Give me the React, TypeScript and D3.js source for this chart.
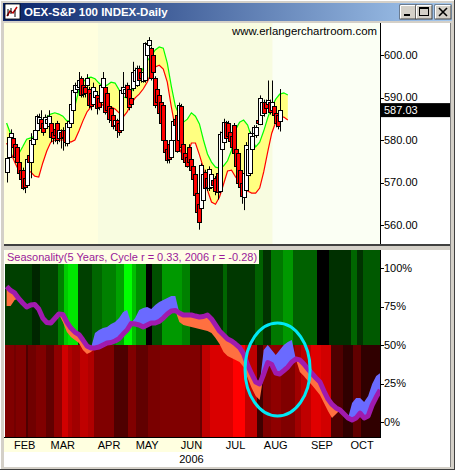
import React from "react";
import * as d3 from "d3";

// ---------- DATA ----------
// trading-day index: 0 = 3 Jan 2006
const FIRST_BAR_DAY = 11;
const opens = [572.5,576.0,580.7,580.5,579.0,578.4,574.8,573.0,573.0,571.0,569.5,576.5,574.8,579.0,580.2,582.4,584.0,585.0,584.0,582.8,584.0,583.3,584.0,582.0,582.5,584.0,580.5,582.0,582.4,582.4,579.3,583.0,584.0,587.0,591.3,592.0,592.5,594.6,593.0,592.5,593.0,592.0,591.0,588.5,590.0,590.6,590.0,589.0,592.5,592.5,591.0,588.0,587.5,586.0,583.5,584.7,584.0,582.4,591.2,591.0,592.9,592.0,590.0,592.2,594.0,592.9,597.0,596.0,594.0,594.0,600.0,602.4,601.6,600.0,594.6,592.0,590.6,589.0,588.2,580.0,578.0,579.0,576.0,580.0,585.0,586.0,580.0,588.0,579.0,577.0,576.0,578.4,575.5,574.0,572.0,567.5,565.0,564.0,566.0,572.5,571.0,568.7,569.0,570.5,571.0,572.2,568.0,578.0,579.5,584.2,584.0,582.0,581.0,583.5,578.0,577.0,573.0,570.0,566.6,568.2,572.0,572.2,578.0,581.6,581.0,584.7,584.0,586.0,589.0,589.0,588.5,589.0,587.0,588.0,586.4,586.0,584.5];
const highs = [576.5,581.5,582.5,581.5,579.5,579.0,575.5,574.0,573.5,571.5,576.0,577.0,581.6,581.0,583.0,586.0,586.2,587.0,584.5,586.0,585.8,587.0,584.5,582.5,583.0,584.5,583.0,582.5,583.0,583.0,584.5,585.0,589.0,592.0,593.5,593.8,596.0,595.0,593.5,593.0,595.5,592.5,591.5,593.5,592.0,591.0,590.5,594.0,596.0,593.0,591.5,588.5,588.0,586.5,585.5,585.0,584.5,592.5,596.0,593.0,593.5,592.5,590.5,598.4,597.0,597.5,597.5,596.5,596.5,603.0,603.2,604.2,602.0,600.5,595.0,592.5,591.0,590.0,588.5,581.0,579.0,579.5,580.5,585.0,585.5,586.5,588.8,588.5,579.5,577.5,576.5,579.0,576.0,574.5,572.5,568.0,565.5,574.5,572.5,573.0,571.5,573.8,572.5,571.0,571.5,572.5,582.0,582.5,585.0,584.5,584.5,582.5,581.5,584.0,578.5,577.5,573.5,570.5,572.5,579.5,578.5,582.0,581.5,583.5,583.5,585.0,590.5,589.5,589.5,589.5,594.0,589.5,594.0,588.5,587.0,586.5,592.0];
const lows = [570.0,574.5,579.5,577.5,575.0,574.0,571.0,570.0,568.2,567.5,569.0,572.0,571.0,577.5,579.5,581.5,583.0,582.0,581.0,582.0,583.0,583.0,579.5,579.0,579.5,579.0,579.5,578.0,577.5,578.5,578.5,582.0,583.5,586.5,590.5,591.0,592.0,590.0,590.0,590.0,592.5,587.5,587.0,588.0,589.0,586.0,587.0,588.5,592.0,586.0,586.5,584.0,584.0,582.5,582.5,580.5,581.0,582.0,590.5,590.0,589.5,587.0,587.5,591.5,593.5,592.5,593.5,593.5,593.5,593.5,599.5,601.5,594.0,595.5,587.5,588.5,585.5,583.5,579.0,576.5,574.5,574.5,575.5,579.5,583.0,577.0,579.5,577.5,575.0,574.0,573.5,574.0,572.0,570.5,566.5,562.5,558.9,563.5,565.5,568.0,568.0,568.0,568.5,568.5,567.0,566.0,567.5,577.5,579.0,580.0,580.0,579.0,578.0,576.5,573.0,569.5,568.0,565.0,563.5,567.5,571.5,571.5,577.5,581.0,580.5,583.5,583.5,585.5,585.5,586.5,587.5,586.0,586.5,585.0,583.0,582.5,582.0];
const closes = [575.8,580.7,581.6,578.4,576.0,574.8,572.2,571.0,568.7,568.8,575.5,574.8,580.0,580.5,582.4,585.6,585.5,582.8,582.0,585.4,585.0,585.6,580.7,580.5,581.0,580.0,582.4,580.5,580.8,579.5,584.0,584.5,588.5,591.8,593.0,593.0,594.1,590.6,591.0,591.0,594.6,588.2,588.0,592.5,591.5,587.5,588.0,593.0,594.6,586.6,587.0,585.0,584.7,583.5,584.7,582.4,582.0,591.8,592.5,592.0,590.0,587.8,588.5,596.0,596.5,597.0,594.1,594.5,596.0,602.8,602.5,603.5,594.6,596.0,588.2,589.0,586.4,584.0,580.0,577.2,575.3,575.5,580.0,584.5,583.5,577.5,588.2,578.4,575.5,575.0,574.0,574.8,573.0,571.0,567.0,563.0,560.7,574.1,572.0,568.7,569.0,573.2,572.0,569.4,568.0,567.8,581.5,582.0,584.2,580.5,581.0,580.0,578.5,577.0,574.0,570.0,569.0,567.0,572.2,578.8,578.0,581.6,581.0,583.0,583.0,584.0,590.0,589.0,586.4,587.5,589.4,586.6,589.0,585.9,584.0,583.5,587.03];
const LAST_PRICE = 587.03;

// displaced envelope, every 2nd trading day from day 11
const BAND_START_DAY = 11;
const bandUpper = [584.0,581.4,578.6,576.7,578.4,580.2,580.5,580.9,582.6,584.0,585.4,586.1,586.4,586.1,585.6,584.5,584.5,588.0,591.8,593.6,594.6,594.8,594.4,593.4,592.5,592.9,593.6,593.4,591.8,590.1,589.9,591.3,593.2,595.1,596.9,598.6,599.8,601.2,601.9,601.6,598.1,592.7,588.0,585.9,584.2,584.9,586.4,585.6,583.8,580.0,576.7,574.8,573.6,573.4,573.9,575.1,577.6,582.4,584.2,584.7,583.5,580.5,578.4,579.5,582.1,585.2,587.8,589.6,590.8,591.1,590.6];
const bandLower = [579.3,577.2,574.8,572.9,572.5,572.5,572.5,571.5,571.3,574.6,577.4,579.5,580.0,580.0,580.0,579.8,579.5,580.0,582.1,584.5,586.6,587.8,588.5,588.7,588.2,587.8,587.8,587.3,586.4,585.4,586.6,588.5,589.9,590.8,592.0,593.6,595.8,597.2,597.6,596.7,593.6,587.8,582.8,578.1,575.8,576.5,579.3,579.3,576.5,573.4,568.2,565.4,564.9,566.6,569.6,572.7,572.9,571.3,570.1,568.9,568.0,567.5,567.5,568.7,572.5,577.2,581.6,584.2,585.4,585.4,584.7];

// seasonality (percent), every 2nd trading day from day 11
const SEASON_START_DAY = 11;
const cycle5y = [88.0,85.4,83.8,80.2,77.3,74.7,76.0,76.3,73.4,67.5,64.6,64.3,67.2,70.1,69.8,64.9,61.0,58.4,56.8,53.2,49.4,48.1,48.1,48.7,50.0,51.3,51.6,52.6,54.2,57.1,59.7,64.0,63.6,63.0,61.7,63.0,64.3,64.3,65.3,67.5,70.1,72.1,72.4,70.8,69.5,69.5,69.5,68.8,68.2,68.5,69.5,66.9,63.0,59.1,56.5,53.9,52.6,50.6,48.4,44.2,37.0,31.2,26.0,24.7,31.2,38.6,37.3,31.8,31.2,33.4,35.7,39.0,40.9,40.3,37.7,34.4,31.5,28.6,26.0,20.1,14.9,11.4,9.1,7.8,5.2,2.6,1.3,2.6,5.8,2.6,3.9,11.0,16.2,20.8];
const year2006 = [75.3,75.3,79.2,80.2,77.3,74.7,76.0,76.3,73.4,67.5,64.6,64.3,67.2,70.1,64.9,58.4,55.2,53.2,51.3,46.8,44.2,45.5,57.8,59.7,61.0,61.7,63.6,64.9,67.5,71.4,72.7,64.3,67.5,72.7,74.0,74.7,73.4,76.0,77.9,79.2,80.5,81.8,81.8,64.9,63.0,62.3,61.7,61.0,60.4,59.7,59.1,57.8,54.5,50.6,45.5,42.9,41.6,40.3,39.0,35.7,28.6,22.1,16.9,14.3,46.8,50.0,46.8,43.5,46.8,50.0,51.9,53.2,40.9,32.5,29.9,26.6,24.0,20.8,17.5,12.3,7.1,2.6,5.2,7.8,5.2,2.6,12.3,15.6,15.6,13.0,16.9,24.7,29.9,31.8];

// heat-map strength per period (start day, level 0..1)
const greenSegStart = [10.2,12.5,23.5,27.5,36.5,39.5,41.5,46.5,53.5,58.5,65.5,69.5,73.5,75.5,80.5,83.5,88.5,98.5,102.5,118.5,120.5,134.5,138.5,142.5,148.5,153.5,165.5,171.5,182.5,185.5,188.5];
const greenLevel = [0.22,0.25,0.15,0.27,0.5,0.8,0.9,0.25,0.4,0.5,0.63,1.0,0.75,0.56,0.0,0.31,0.6,0.5,0.2,0.4,0.22,0.38,0.2,0.47,0.6,0.38,0.0,0.19,0.4,0.2,0.35];
const redSegStart = [10.2,14.5,15.5,20.5,21.5,25.5,30.5,34.5,38.5,41.5,43.5,47.5,51.5,54.5,64.5,71.5,75.5,81.5,87.5,107.5,108.5,112.5,123.5,129.5,135.5,138.5,142.5,147.5,154.5,157.5,162.5,167.5,172.5,178.5,183.5,187.5];
const redLevel = [0.5,0.45,0.5,0.31,0.44,0.5,0.38,0.56,0.82,0.69,0.63,0.75,0.69,0.5,0.31,0.5,0.38,0.48,0.5,0.4,0.75,0.85,1.0,0.75,0.25,0.5,0.56,0.5,0.63,0.75,0.88,0.82,0.31,0.19,0.38,0.19];

const monthLabels = ["FEB","MAR","APR","MAY","JUN","JUL","AUG","SEP","OCT"];
const monthStartDays = [20,39,62,81,103,125,145,168,188];
const yearLabel = "2006";
const priceTicks = [560,570,580,590,600];
const pctTicks = [0,25,50,75,100];
const DAY_DOMAIN = [10.2, 196.9];
const shadeBreakDays = [56.5, 143.5];
// annotation ellipse (day, pct, half-width days, half-height pct)
const highlight = { d: 145.9, pct: 34.1, rd: 16.2, rp: 30.2 };

const FONT = "'Liberation Sans', Arial, sans-serif";

export default function App() {
  const L = 4, R = 380, RIGHT = 450;
  const TT = 23, TB = 244, BT = 250, BB = 437;
  const x = d3.scaleLinear().domain(DAY_DOMAIN).range([5, R]);
  const yP = d3.scaleLinear().domain([560, 600]).range([225, 55]);
  const yS = d3.scaleLinear().domain([0, 100]).range([422, 268]);
  const green = d3.scaleLinear<string>().domain([0, 1]).range(["#000000", "#00ff00"]);
  const red = d3.scaleLinear<string>().domain([0, 1]).range(["#000000", "#ff0000"]);

  const band = bandUpper.map((u, k) => ({ d: BAND_START_DAY + 2 * k, u, l: bandLower[k] }));
  const bandArea = d3.area<any>().x((p) => x(p.d)).y0((p) => yP(p.l)).y1((p) => yP(p.u));
  const upLine = d3.line<any>().x((p) => x(p.d)).y((p) => yP(p.u));
  const loLine = d3.line<any>().x((p) => x(p.d)).y((p) => yP(p.l));

  const season = cycle5y.map((c, k) => ({ d: SEASON_START_DAY + 2 * k, c, v: year2006[k] }));
  const blueArea = d3.area<any>().x((p) => x(p.d)).y0((p) => yS(p.c)).y1((p) => yS(Math.max(p.c, p.v)));
  const orangeArea = d3.area<any>().x((p) => x(p.d)).y0((p) => yS(p.c)).y1((p) => yS(Math.min(p.c, p.v)));
  const cycLine = d3.line<any>().x((p) => x(p.d)).y((p) => yS(p.c));

  const segs = (starts: number[], levels: number[]) =>
    starts.map((s, k) => ({ x0: x(s), x1: x(k + 1 < starts.length ? starts[k + 1] : DAY_DOMAIN[1]), lv: levels[k] }));
  const gSegs = segs(greenSegStart, greenLevel);
  const rSegs = segs(redSegStart, redLevel);

  const s1 = x(shadeBreakDays[0]);
  const s2 = x(shadeBreakDays[1]);

  return (
    <svg width={455} height={470} style={{ position: "absolute", left: 0, top: 0 }} fontFamily={FONT}>
      <defs>
        <linearGradient id="tb" x1="0" x2="1" y1="0" y2="0">
          <stop offset="0" stopColor="#0a246a" />
          <stop offset="1" stopColor="#a6caf0" />
        </linearGradient>
        <clipPath id="topClip"><rect x={L} y={TT} width={R - L} height={TB - TT} /></clipPath>
        <clipPath id="botClip"><rect x={L} y={BT} width={R - L} height={BB - BT} /></clipPath>
      </defs>
      {/* window chrome */}
      <rect x={0} y={0} width={455} height={470} fill="#d4d0c8" />
      <line x1={0.5} y1={0} x2={0.5} y2={470} stroke="#ffffff" />
      <line x1={0} y1={0.5} x2={455} y2={0.5} stroke="#ffffff" />
      <line x1={454.5} y1={0} x2={454.5} y2={470} stroke="#404040" />
      <line x1={0} y1={469.5} x2={455} y2={469.5} stroke="#404040" />
      <rect x={3} y={3} width={449} height={18} fill="url(#tb)" />
      <rect x={5} y={4} width={15} height={15} fill="#ffffff" stroke="#000" strokeWidth={0.8} />
      <path d="M7,16 L10,11 L13,13 L17,7" stroke="#c00000" strokeWidth={1.5} fill="none" />
      <path d="M8,9 v7 M11,8 v6 M15,10 v7" stroke="#000" strokeWidth={1} />
      <text x={24} y={16} fill="#ffffff" fontWeight="bold" fontSize={11.5}>OEX-S&amp;P 100 INDEX-Daily</text>
      {[400, 416, 435].map((bx, k) => (
        <g key={k}>
          <rect x={bx} y={5} width={16} height={14} fill="#d4d0c8" stroke="#404040" />
          <line x1={bx + 0.5} y1={5.5} x2={bx + 15.5} y2={5.5} stroke="#fff" />
          <line x1={bx + 0.5} y1={5.5} x2={bx + 0.5} y2={18.5} stroke="#fff" />
        </g>
      ))}
      <rect x={404} y={14} width={6} height={2} fill="#000" />
      <rect x={419.5} y={7.5} width={9} height={8} fill="none" stroke="#000" />
      <line x1={419.5} y1={8.5} x2={428.5} y2={8.5} stroke="#000" />
      <path d="M439,8 L447,16 M447,8 L439,16" stroke="#000" strokeWidth={1.6} />

      {/* client area */}
      <rect x={L} y={TT} width={RIGHT - L} height={467 - TT} fill="#ffffff" />

      {/* ---------- top price panel ---------- */}
      <rect x={L} y={TT} width={s1 - L} height={TB - TT} fill="#ffffde" />
      <rect x={s1} y={TT} width={s2 - s1} height={TB - TT} fill="#f8fce0" />
      <rect x={s2} y={TT} width={R - s2} height={TB - TT} fill="#fbfff4" />
      <g clipPath="url(#topClip)">
        <path d={bandArea(band) || ""} fill="#ffff80" />
        <path d={upLine(band) || ""} fill="none" stroke="#00ff00" strokeWidth={1.2} />
        <path d={loLine(band) || ""} fill="none" stroke="#ff0000" strokeWidth={1.2} />
        {closes.map((c, i) => {
          const o = opens[i];
          const cx = Math.round(x(FIRST_BAR_DAY + i));
          const top = yP(Math.max(o, c));
          const bot = yP(Math.min(o, c));
          return (
            <g key={i}>
              <line x1={cx + 0.5} x2={cx + 0.5} y1={yP(highs[i])} y2={yP(lows[i])} stroke="#000" strokeWidth={1} />
              <rect x={cx - 1.5} y={Math.round(top) + 0.5} width={4} height={Math.max(1, Math.round(bot - top))}
                fill={c >= o ? "#ffffff" : "#ff0000"} stroke="#000" strokeWidth={1} shapeRendering="crispEdges" />
            </g>
          );
        })}
      </g>
      <text x={377} y={35} textAnchor="end" fontSize={11.4} fill="#000">www.erlangerchartroom.com</text>
      <line x1={R + 0.5} y1={TT} x2={R + 0.5} y2={TB} stroke="#000" />
      {priceTicks.map((t) => (
        <g key={t}>
          <line x1={R} x2={R + 4} y1={Math.round(yP(t)) + 0.5} y2={Math.round(yP(t)) + 0.5} stroke="#000" />
          <text x={384} y={yP(t)} dy="0.36em" fontSize={11} fill="#000">{t.toFixed(2)}</text>
        </g>
      ))}
      <rect x={R + 1} y={yP(LAST_PRICE) - 7} width={RIGHT - R - 1} height={14} fill="#000" />
      <text x={384} y={yP(LAST_PRICE)} dy="0.36em" fontSize={11} fill="#fff">{LAST_PRICE.toFixed(2)}</text>

      {/* separator */}
      <rect x={L} y={TB} width={RIGHT - L} height={2} fill="#404040" />
      <rect x={L} y={TB + 2} width={RIGHT - L} height={BT - TB - 2} fill="#d4d0c8" />

      {/* ---------- seasonality panel ---------- */}
      <g clipPath="url(#botClip)" shapeRendering="crispEdges">
        {gSegs.map((s, k) => (
          <rect key={"g" + k} x={s.x0} y={BT} width={s.x1 - s.x0 + 0.3} height={yS(50) - BT} fill={green(s.lv)} />
        ))}
        {rSegs.map((s, k) => (
          <rect key={"r" + k} x={s.x0} y={yS(50)} width={s.x1 - s.x0 + 0.3} height={BB - yS(50)} fill={red(s.lv)} />
        ))}
      </g>
      <g clipPath="url(#botClip)">
        <path d={orangeArea(season) || ""} fill="#ff7040" />
        <path d={blueArea(season) || ""} fill="#6a6aff" />
        <path d={cycLine(season) || ""} fill="none" stroke="#a01aae" strokeWidth={5} strokeLinejoin="round" />
        <ellipse cx={x(highlight.d)} cy={yS(highlight.pct)} rx={x(highlight.d + highlight.rd) - x(highlight.d)}
          ry={yS(highlight.pct - highlight.rp) - yS(highlight.pct)} fill="none" stroke="#00e8f4" strokeWidth={3} />
      </g>
      <rect x={L + 1} y={BT} width={254} height={14} fill="#ffffe6" />
      <text x={7} y={261} fontSize={11} fill="#9a1a9a">Seasonality(5 Years, Cycle r = 0.33, 2006 r = -0.28)</text>
      <line x1={R + 0.5} y1={BT} x2={R + 0.5} y2={BB} stroke="#000" />
      {pctTicks.map((t) => (
        <g key={t}>
          <line x1={R} x2={R + 4} y1={Math.round(yS(t)) + 0.5} y2={Math.round(yS(t)) + 0.5} stroke="#000" />
          <text x={384} y={yS(t)} dy="0.36em" fontSize={11} fill="#000">{t}%</text>
        </g>
      ))}

      {/* ---------- x axis ---------- */}
      <rect x={L} y={BB + 1} width={x(108.5) - L} height={14} fill="#ffffe0" />
      <line x1={L} y1={BB + 0.5} x2={R + 1} y2={BB + 0.5} stroke="#000" />
      {monthLabels.map((m, k) => (
        <text key={m} x={x(monthStartDays[k])} y={449} textAnchor="middle" fontSize={11} fill="#000">{m}</text>
      ))}
      <text x={x(103)} y={463} textAnchor="middle" fontSize={11} fill="#000">{yearLabel}</text>
      <line x1={RIGHT + 0.5} y1={TT} x2={RIGHT + 0.5} y2={467} stroke="#808080" />
    </svg>
  );
}
